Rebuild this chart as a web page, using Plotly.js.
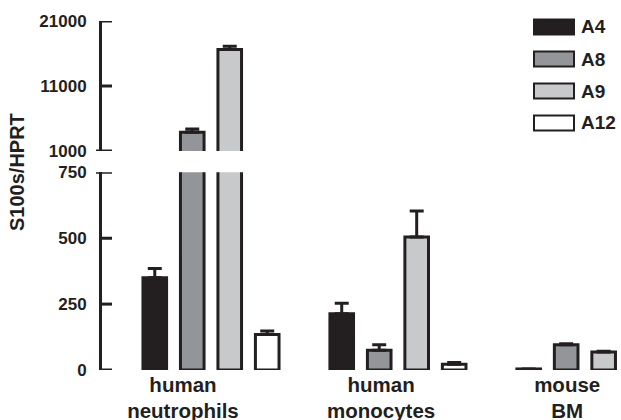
<!DOCTYPE html>
<html>
<head>
<meta charset="utf-8">
<script src="https://cdn.plot.ly/plotly-3.0.1.min.js"></script>
<style>html,body{margin:0;padding:0;background:#fff;}#chart{width:621px;height:420px;}</style>
</head>
<body>
<div id="chart"></div>
<script>
// ---- data ----
var categories = ['human<br>neutrophils', 'human<br>monocytes', 'mouse<br>BM'];
var seriesNames = ['A4', 'A8', 'A9', 'A12'];
var seriesColors = ['#231f20', '#939598', '#c8c9cb', '#ffffff'];
var valA4 = [350, 213, 4];
var valA8 = [3900, 75, 96];
var valA9 = [16600, 505, 68];
var valA12 = [135, 22, null];
var errA4 = [35, 40, 0];
var errA8 = [500, 21, 4];
var errA9 = [500, 98, 3];
var errA12 = [13, 6, null];
var lowerTicks = [0, 250, 500, 750];
var upperTicks = [1000, 11000, 21000];
var lowerTickLabels = ['0', '250', '500', '750'];
var upperTickLabels = ['1000', '11000', '21000'];

var values = [valA4, valA8, valA9, valA12];
var errors = [errA4, errA8, errA9, errA12];
var dark = '#231f20';
var xs = categories.map(function (c, i) { return i; });
var labelShift = [-0.15, -0.09, -0.095];

var traces = [];
['y', 'y2'].forEach(function (ax) {
  seriesNames.forEach(function (name, k) {
    traces.push({
      type: 'bar',
      name: name,
      x: xs,
      y: values[k],
      xaxis: 'x',
      yaxis: ax,
      showlegend: false,
      marker: { color: seriesColors[k], line: { color: dark, width: 3 } },
      error_y: {
        type: 'data', symmetric: false, array: errors[k],
        arrayminus: errors[k].map(function () { return 0; }),
        color: dark, thickness: 3, width: 7
      },
      hoverinfo: 'skip'
    });
  });
});

// plot area: x 102..621, y 21..370
var plotTop = 21, plotBottom = 370, plotLeft = 102, plotW = 519, plotH = plotBottom - plotTop;
function py(p) { return (plotBottom - p) / plotH; }
function px(p) { return (p - plotLeft) / plotW; }

var tickFont = { family: 'Liberation Sans, Arial, sans-serif', size: 17, weight: 'bold', color: dark };

var shapes = [];
var annotations = [];
seriesNames.forEach(function (name, k) {
  var yc = 27 + 32 * k;
  shapes.push({
    type: 'rect', xref: 'paper', yref: 'paper',
    xsizemode: 'pixel', ysizemode: 'pixel',
    xanchor: px(534), yanchor: py(yc),
    x0: 0, x1: 40, y0: -7.5, y1: 7.5,
    fillcolor: seriesColors[k], line: { color: dark, width: 2 }
  });
  annotations.push({
    xref: 'paper', yref: 'paper', x: px(579), y: py(yc),
    xanchor: 'left', yanchor: 'middle', showarrow: false,
    text: name, font: { family: 'Liberation Sans, Arial, sans-serif', size: 19, weight: 'bold', color: dark }
  });
});
// tick marks (inside) and axis break marks drawn as shapes
function tickShape(yref, v, x0) {
  return { type: 'line', xref: 'paper', yref: yref, xsizemode: 'pixel', xanchor: 0, x0: x0, x1: 10, y0: v, y1: v, line: { color: dark, width: 3 }, layer: 'above' };
}
lowerTicks.forEach(function (v, i) { shapes.push(tickShape('y', v, i === lowerTicks.length - 1 ? -6 : 0)); });
upperTicks.forEach(function (v, i) { shapes.push(tickShape('y2', v, i === 0 ? -6 : 0)); });

annotations.push({
  xref: 'paper', yref: 'paper', x: px(17), y: py(172),
  xanchor: 'center', yanchor: 'middle', showarrow: false, textangle: -90,
  text: 'S100s/HPRT', font: { family: 'Liberation Sans, Arial, sans-serif', size: 20, weight: 'bold', color: dark }
});

var yCommon = {
  anchor: 'x', showline: true, linecolor: dark, linewidth: 3,
  ticks: 'outside', ticklen: 9, tickwidth: 3, tickcolor: 'rgba(0,0,0,0)',
  showgrid: false, zeroline: false, tickfont: tickFont, tickmode: 'array'
};

var layout = {
  width: 621, height: 420,
  margin: { l: plotLeft, r: 0, t: plotTop, b: 420 - plotBottom, pad: 0 },
  paper_bgcolor: '#fff', plot_bgcolor: '#fff',
  barmode: 'group', bargap: 0.198, bargroupgap: 0.37,
  showlegend: false,
  xaxis: {
    range: [-0.583, 2.193], showline: false, showgrid: false, zeroline: false,
    tickmode: 'array', tickvals: xs.map(function (i) { return i + labelShift[i]; }), ticktext: categories,
    ticks: '', tickfont: { family: 'Liberation Sans, Arial, sans-serif', size: 20.5, weight: 'bold', color: dark }
  },
  yaxis: Object.assign({}, yCommon, { domain: [0, py(172.3)], range: [0, 750], tickvals: lowerTicks, ticktext: lowerTickLabels }),
  yaxis2: Object.assign({}, yCommon, { domain: [py(151), 1], range: [1000, 21000], tickvals: upperTicks, ticktext: upperTickLabels }),
  shapes: shapes,
  annotations: annotations
};

Plotly.newPlot('chart', traces, layout, { staticPlot: true, displayModeBar: false });
</script>
</body>
</html>
